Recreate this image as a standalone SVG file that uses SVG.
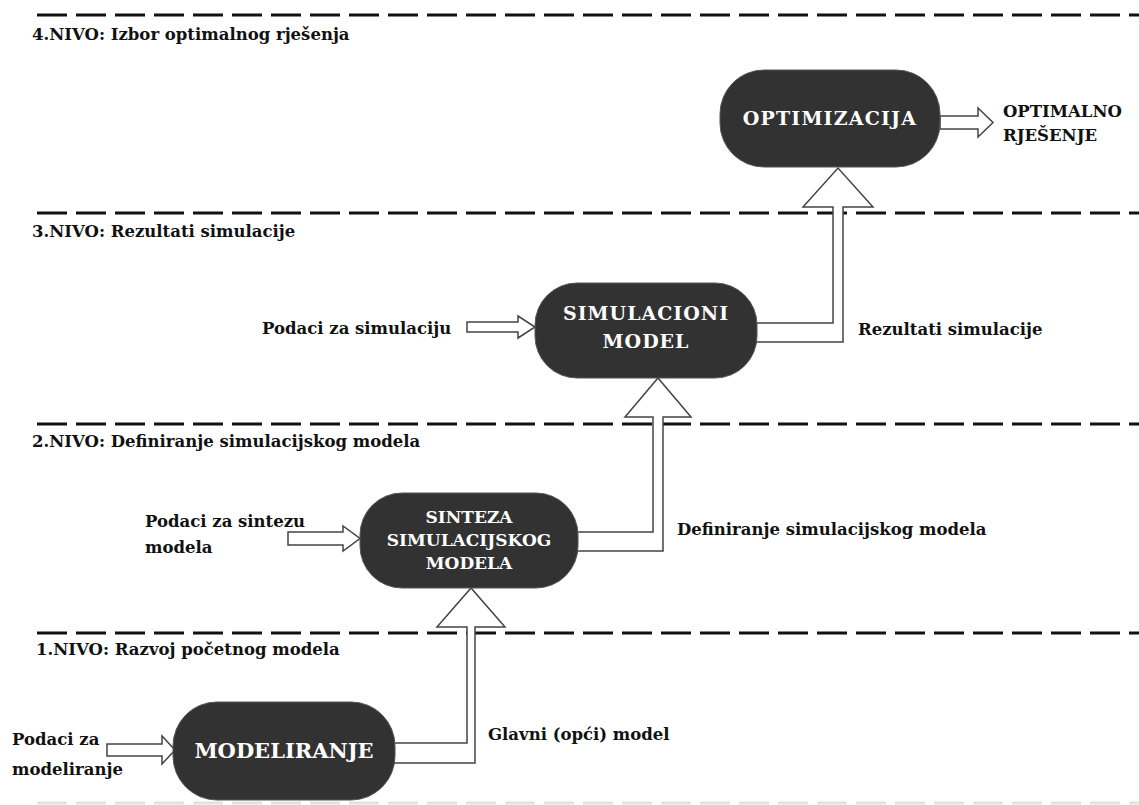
<svg xmlns="http://www.w3.org/2000/svg" width="1139" height="805" viewBox="0 0 1139 805">
<style>
.lvl{stroke:#111;stroke-width:3;stroke-dasharray:30 9;fill:none}
.lbl{font-family:"DejaVu Serif","Liberation Serif",serif;font-weight:bold;font-size:16.5px;fill:#111}
.node rect{fill:#323232;stroke:#555;stroke-width:1}
.node text{font-family:"DejaVu Serif","Liberation Serif",serif;font-weight:bold;fill:#fff;text-anchor:middle}
.arr{fill:#fff;stroke:#444;stroke-width:1.5;stroke-linejoin:miter}
</style>
<rect width="1139" height="805" fill="#fff"/>
<g id="levels">
<line class="lvl" x1="37" y1="15" x2="1139" y2="15"/>
<line class="lvl" x1="37" y1="213" x2="1139" y2="213"/>
<line class="lvl" x1="37" y1="424" x2="1139" y2="424"/>
<line class="lvl" x1="37" y1="633" x2="1139" y2="633"/>
<line class="lvl" x1="37" y1="803" x2="1139" y2="803" style="stroke:#e2e2e2"/>
<text class="lbl" x="32" y="40">4.NIVO: Izbor optimalnog rješenja</text>
<text class="lbl" x="32" y="237">3.NIVO: Rezultati simulacije</text>
<text class="lbl" x="32" y="447">2.NIVO: Definiranje simulacijskog modela</text>
<text class="lbl" x="36" y="655">1.NIVO: Razvoj početnog modela</text>
</g>
<g id="connectors">
<polygon class="arr" points="107,744 162,744 162,736 175,750 162,764 162,756 107,756"/>
<polygon class="arr" points="288,532 343,532 343,526 360,538.5 343,551 343,545 288,545"/>
<polygon class="arr" points="467,322 518,322 518,316 535,327 518,338 518,332 467,332"/>
<polygon class="arr" points="940,116 978,116 978,108 993,122.5 978,137 978,129 940,129"/>
<polygon class="arr" points="380,743 467,743 467,627 437,627 471,588 505,627 475,627 475,763 380,763"/>
<polygon class="arr" points="560,532 653,532 653,417 625,417 658,378 691,417 663,417 663,551 560,551"/>
<polygon class="arr" points="740,323 833,323 833,207 803,207 838,168 873,207 843,207 843,342 740,342"/>
<text class="lbl" x="488" y="740">Glavni (opći) model</text>
<text class="lbl" x="677" y="535">Definiranje simulacijskog modela</text>
<text class="lbl" x="858" y="335">Rezultati simulacije</text>
</g>
<g id="input-modeliranje">
<text class="lbl" x="12" y="745">Podaci za</text>
<text class="lbl" x="12" y="775">modeliranje</text>
</g>
<g id="input-sinteza">
<text class="lbl" x="145" y="527">Podaci za sintezu</text>
<text class="lbl" x="145" y="553">modela</text>
</g>
<g id="input-simulacija">
<text class="lbl" x="262" y="334">Podaci za simulaciju</text>
</g>
<g id="output-optimalno">
<text class="lbl" x="1003" y="117">OPTIMALNO</text>
<text class="lbl" x="1003" y="141">RJEŠENJE</text>
</g>
<g id="modeliranje" class="node">
<rect x="173" y="702" width="222" height="98" rx="44"/>
<text x="284" y="758" font-size="21">MODELIRANJE</text>
</g>
<g id="sinteza" class="node">
<rect x="360" y="493" width="218" height="95" rx="42"/>
<text x="469" y="523" font-size="17">SINTEZA</text>
<text x="469" y="546" font-size="17">SIMULACIJSKOG</text>
<text x="469" y="569" font-size="17">MODELA</text>
</g>
<g id="simulacioni" class="node">
<rect x="535" y="283" width="222" height="95" rx="42"/>
<text x="646" y="320" font-size="19" letter-spacing="1">SIMULACIONI</text>
<text x="646" y="348" font-size="19" letter-spacing="1">MODEL</text>
</g>
<g id="optimizacija" class="node">
<rect x="720" y="70" width="220" height="97" rx="44"/>
<text x="830" y="125" font-size="19" letter-spacing="1.2">OPTIMIZACIJA</text>
</g>
</svg>
